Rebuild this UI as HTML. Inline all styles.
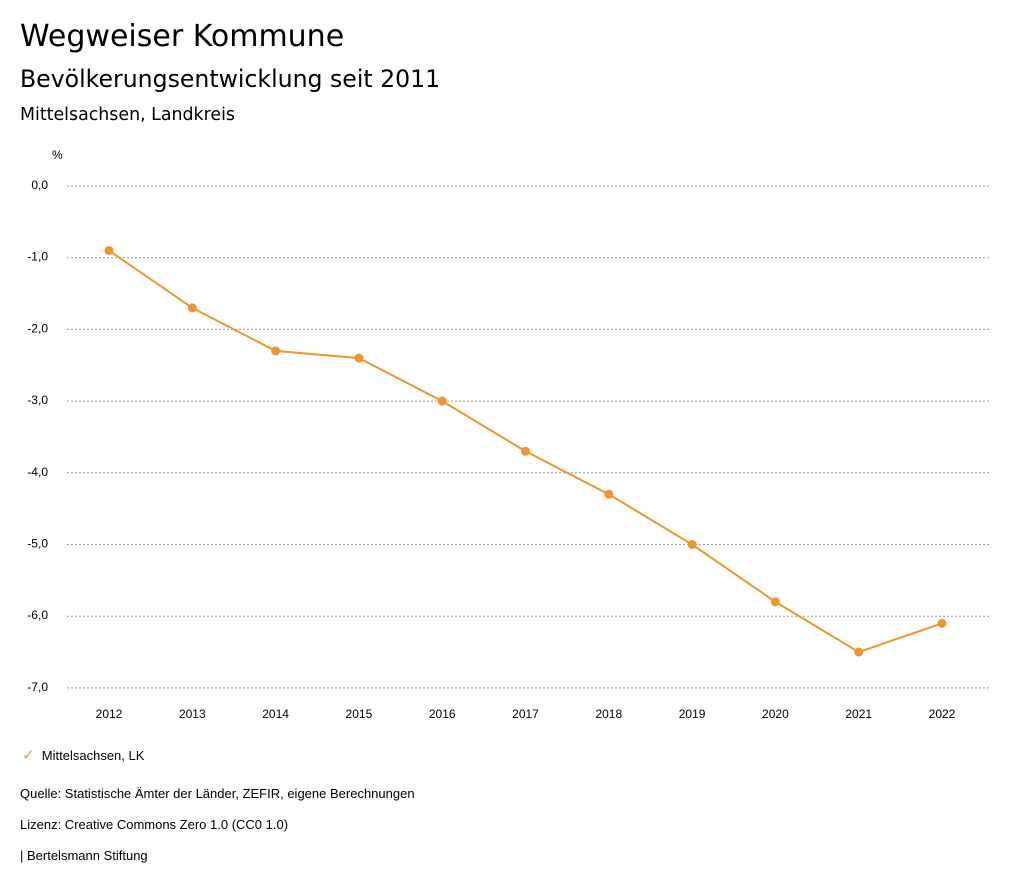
<!DOCTYPE html>
<html><head><meta charset="utf-8"><style>
body{margin:0;background:#fff;width:1024px;height:888px;overflow:hidden;font-family:"Liberation Sans",sans-serif;color:#000}
.t{position:absolute;left:20px;white-space:nowrap}
.d{font-family:"DejaVu Sans",sans-serif}
</style></head><body>
<div class="t d" style="top:19px;font-size:30px">Wegweiser Kommune</div>
<div class="t d" style="top:65px;font-size:23.6px">Bevölkerungsentwicklung seit 2011</div>
<div class="t d" style="top:105px;font-size:17.4px;font-weight:500">Mittelsachsen, Landkreis</div>
<svg id="chart" width="1024" height="888" style="position:absolute;left:0;top:0"></svg>
<div class="t" style="top:746px;left:22px;font-size:13px"><span style="color:#f0962e;font-size:15px">✓</span>&nbsp;&nbsp;Mittelsachsen, LK</div>
<div class="t" style="top:786px;font-size:13px">Quelle: Statistische Ämter der Länder, ZEFIR, eigene Berechnungen</div>
<div class="t" style="top:817px;font-size:13px">Lizenz: Creative Commons Zero 1.0 (CC0 1.0)</div>
<div class="t" style="top:848px;font-size:13px">| Bertelsmann Stiftung</div>
<script>
const years=[2012,2013,2014,2015,2016,2017,2018,2019,2020,2021,2022];
const values=[-0.9,-1.7,-2.3,-2.4,-3.0,-3.7,-4.3,-5.0,-5.8,-6.5,-6.1];
const yTicks=[0,-1,-2,-3,-4,-5,-6,-7];
const NS="http://www.w3.org/2000/svg";
const svg=document.getElementById('chart');
const x=i=>109+i*83.3;
const y=v=>186-v*71.7;
function mk(t,a){const e=document.createElementNS(NS,t);for(const k in a)e.setAttribute(k,a[k]);svg.appendChild(e);return e;}
const u=mk('text',{x:52,y:159,'font-size':12,fill:'#000'});u.textContent='%';


yTicks.forEach(v=>{
 const l=mk('line',{x1:67,x2:990,y1:y(v),y2:y(v),stroke:'#999','stroke-dasharray':'2,2','stroke-width':1});
 
 
 const t=mk('text',{x:48,y:y(v)+3,'font-size':12,'text-anchor':'end',fill:'#000'});
 t.textContent=v.toFixed(1).replace('.',',');
 
 
});
years.forEach((yr,i)=>{
 const t=mk('text',{x:x(i),y:718,'font-size':12,'text-anchor':'middle',fill:'#000'});
 t.textContent=yr;
 
 
});
const p=mk('polyline',{points:values.map((v,i)=>x(i)+','+y(v)).join(' '),fill:'none',stroke:'#f0962e','stroke-width':2});


values.forEach((v,i)=>{
 const c=mk('circle',{cx:x(i),cy:y(v),r:4.5,fill:'#f0962e'});
 
 
});
</script>
</body></html>
